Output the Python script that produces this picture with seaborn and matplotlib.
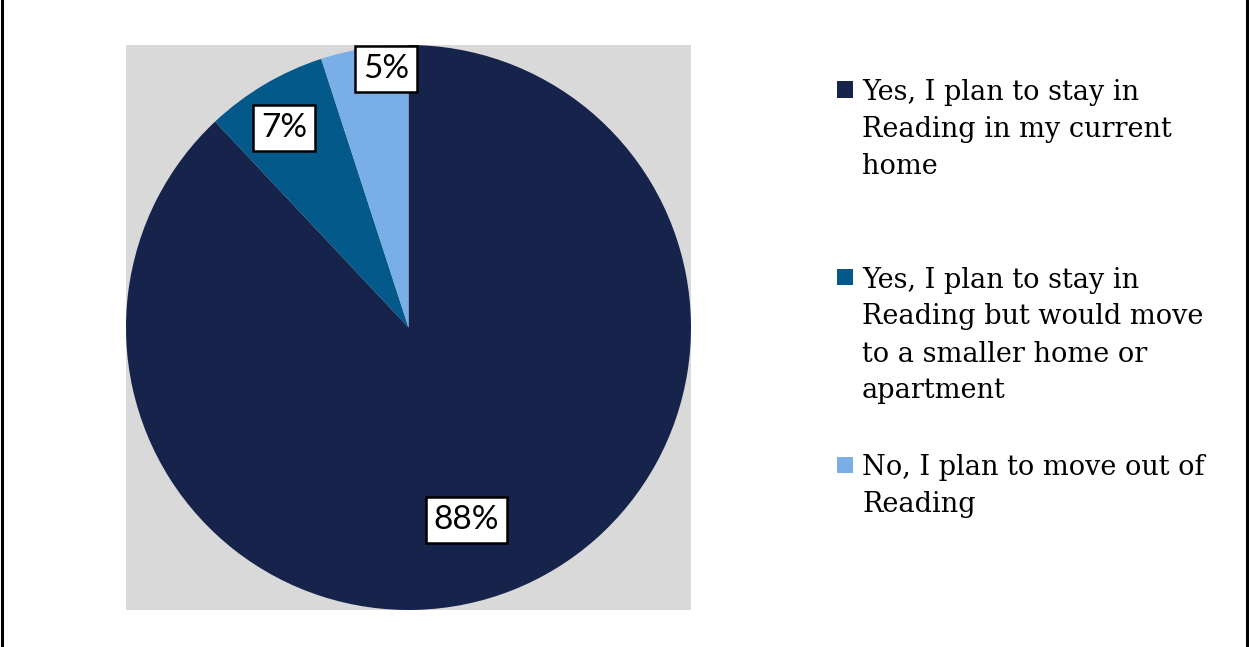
import matplotlib
matplotlib.use("Agg")
import matplotlib.pyplot as plt
from matplotlib.patches import Rectangle
from matplotlib.lines import Line2D
import seaborn as sns

# Survey answers and shares (percent)
categories = [
    "Yes, I plan to stay in\nReading in my current\nhome",
    "Yes, I plan to stay in\nReading but would move\nto a smaller home or\napartment",
    "No, I plan to move out of\nReading",
]
shares = [88, 7, 5]
colors = ["#16234A", "#03598A", "#7AAEE6"]

sns.set_theme(style="white")
plt.rcParams["font.family"] = ["Lato", "DejaVu Sans"]

W, H = 1249, 647
fig = plt.figure(figsize=(W / 100, H / 100), dpi=100)
fig.patch.set_facecolor("white")

# Plot area (grey square) holding the pie
left, top, size = 126, 45, 565
ax = fig.add_axes([left / W, 1 - (top + size) / H, size / W, size / H])
ax.set_facecolor("#D9D9D9")
wedges, _ = ax.pie(
    shares,
    colors=sns.color_palette(colors),
    startangle=90,
    counterclock=False,
    radius=1.0,
    frame=True,
    wedgeprops=dict(linewidth=0),
)
ax.set_xlim(-1, 1)
ax.set_ylim(-1, 1)
ax.set_aspect("equal")
ax.set_xticks([])
ax.set_yticks([])
for s in ax.spines.values():
    s.set_visible(False)

# Data labels in white boxes
label_pos = [(0.205, -0.68), (-0.44, 0.705), (-0.08, 0.915)]
for val, (x, y) in zip(shares, label_pos):
    ax.text(x, y, f"{val}%", ha="center", va="center", fontsize=24,
            color="black",
            bbox=dict(boxstyle="square,pad=0.24", facecolor="white",
                      edgecolor="black", linewidth=1.8))

# Legend drawn entry by entry with equal pitch
serif = ["DejaVu Serif"]
entry_top = 80      # cap top of first entry, px
entry_pitch = 187.5
line_pitch = 37
cap = 20
sq = 16
for i, (lab, col) in enumerate(zip(categories, colors)):
    y_cap = entry_top + i * entry_pitch
    base = y_cap + cap
    fig.add_artist(Rectangle((837 / W, 1 - (y_cap + 1.5 + sq) / H), sq / W, sq / H,
                             transform=fig.transFigure, facecolor=col,
                             edgecolor="none"))
    for j, line in enumerate(lab.split("\n")):
        fig.text(862 / W, 1 - (base + j * line_pitch) / H, line,
                 ha="left", va="baseline", fontsize=19.5, family=serif,
                 color="black")

# Thin frame lines at the left and right edges
for xp in (1.5, 1247.0):
    fig.add_artist(Line2D([xp / W, xp / W], [0, 1], transform=fig.transFigure,
                          color="black", linewidth=2.2))

fig.savefig("out.png", dpi=100, facecolor="white")
